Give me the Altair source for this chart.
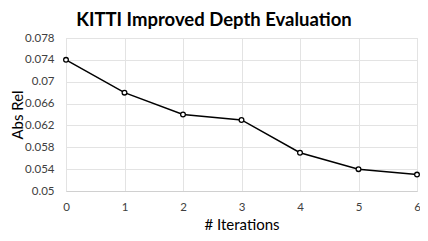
import altair as alt
import pandas as pd

iterations = [0, 1, 2, 3, 4, 5, 6]
abs_rel = [0.074, 0.068, 0.064, 0.063, 0.057, 0.054, 0.053]
y_ticks = [0.05, 0.054, 0.058, 0.062, 0.066, 0.07, 0.074, 0.078]

df = pd.DataFrame({"it": iterations, "absrel": abs_rel})

FONT = "Lato"
W, H = 351, 153

x = alt.X("it:Q", title="# Iterations",
          scale=alt.Scale(domain=[0, 6], nice=False, zero=False),
          axis=alt.Axis(values=iterations, format="d", grid=True, gridColor="#e3e3e3",
                        domain=True, domainColor="#d0d0d0", ticks=False, labelFlush=False,
                        labelPadding=10, labelFontSize=11.5, labelColor="#404040",
                        titleFontSize=15, titleFont=FONT, labelFont=FONT,
                        titleFontWeight="normal", titleColor="#000000",
                        titleX=W / 2, titleY=38, titleBaseline="alphabetic",
                        titleAlign="center"))
y = alt.Y("absrel:Q", title="Abs Rel",
          scale=alt.Scale(domain=[0.05, 0.078], nice=False, zero=False),
          axis=alt.Axis(values=y_ticks, format="~g", grid=True, gridColor="#e3e3e3",
                        domain=False, ticks=False, labelPadding=12, labelFlush=False,
                        labelFontSize=11.5, labelColor="#404040",
                        titleFontSize=15, titleFont=FONT, labelFont=FONT,
                        titleFontWeight="normal", titleColor="#000000",
                        titleX=-44, titleY=H / 2, titleAngle=-90,
                        titleBaseline="alphabetic", titleAlign="center"))

line = alt.Chart(df).mark_line(color="#000000", strokeWidth=1.5).encode(x=x, y=y)
pts = alt.Chart(df).mark_point(shape="circle", filled=True, fill="white", stroke="#000000",
                               strokeWidth=1.3, size=22, opacity=1).encode(x=x, y=y)

chart = (line + pts).properties(
    width=W, height=H,
    autosize=alt.AutoSizeParams(type="none"),
    padding={"left": 58, "top": 30, "right": 3, "bottom": 42},
    title=alt.TitleParams("KITTI Improved Depth Evaluation", font=FONT, fontSize=18.5,
                          fontWeight="bold", color="#000000", anchor="middle",
                          dx=-27.5, offset=3),
).configure_view(stroke=None).configure(background="white")

chart.save("out.html", embed_options={"renderer": "svg", "actions": False})
